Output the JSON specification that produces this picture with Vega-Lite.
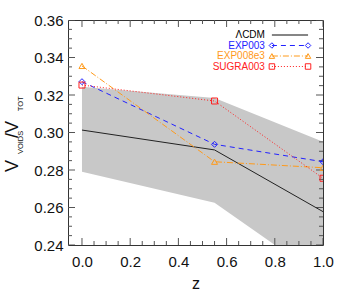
{
  "$schema": "https://vega.github.io/schema/vega-lite/v6.json",
  "width": 255,
  "height": 225,
  "autosize": {"type": "none"},
  "padding": {"left": 68, "top": 20, "right": 31, "bottom": 50},
  "config": {
    "view": {"stroke": "#333333", "strokeWidth": 1},
    "font": "Liberation Sans",
    "axis": {"grid": false, "labelFont": "Liberation Sans", "titleFont": "Liberation Sans", "labelColor": "#111111", "titleColor": "#111111", "titleFontWeight": "normal"}
  },
  "datasets": {
    "band": [
      {"z": 0.0, "lo": 0.2791, "hi": 0.3244},
      {"z": 0.55, "lo": 0.2626, "hi": 0.3184},
      {"z": 1.0, "lo": 0.222, "hi": 0.2951}
    ],
    "series": [
      {"model": "ΛCDM", "z": 0.0, "v": 0.3013},
      {"model": "ΛCDM", "z": 0.55, "v": 0.2907},
      {"model": "ΛCDM", "z": 1.0, "v": 0.2578},
      {"model": "EXP003", "z": 0.0, "v": 0.3271},
      {"model": "EXP003", "z": 0.55, "v": 0.2937},
      {"model": "EXP003", "z": 1.0, "v": 0.2844},
      {"model": "EXP008e3", "z": 0.0, "v": 0.3355},
      {"model": "EXP008e3", "z": 0.55, "v": 0.2844},
      {"model": "EXP008e3", "z": 1.0, "v": 0.2812},
      {"model": "SUGRA003", "z": 0.0, "v": 0.3253},
      {"model": "SUGRA003", "z": 0.55, "v": 0.3168},
      {"model": "SUGRA003", "z": 1.0, "v": 0.2756}
    ],
    "legend": [
      {"model": "ΛCDM", "ly": 0.352},
      {"model": "EXP003", "ly": 0.3464},
      {"model": "EXP008e3", "ly": 0.3408},
      {"model": "SUGRA003", "ly": 0.3352}
    ],
    "xticks": [
      {"t": 0.0, "kind": "major"}, {"t": 0.05, "kind": "minor"}, {"t": 0.1, "kind": "minor"}, {"t": 0.15, "kind": "minor"},
      {"t": 0.2, "kind": "major"}, {"t": 0.25, "kind": "minor"}, {"t": 0.3, "kind": "minor"}, {"t": 0.35, "kind": "minor"},
      {"t": 0.4, "kind": "major"}, {"t": 0.45, "kind": "minor"}, {"t": 0.5, "kind": "minor"}, {"t": 0.55, "kind": "minor"},
      {"t": 0.6, "kind": "major"}, {"t": 0.65, "kind": "minor"}, {"t": 0.7, "kind": "minor"}, {"t": 0.75, "kind": "minor"},
      {"t": 0.8, "kind": "major"}, {"t": 0.85, "kind": "minor"}, {"t": 0.9, "kind": "minor"}, {"t": 0.95, "kind": "minor"},
      {"t": 1.0, "kind": "major"}
    ],
    "yticks": [
      {"t": 0.24, "kind": "major"}, {"t": 0.245, "kind": "minor"}, {"t": 0.25, "kind": "minor"}, {"t": 0.255, "kind": "minor"},
      {"t": 0.26, "kind": "major"}, {"t": 0.265, "kind": "minor"}, {"t": 0.27, "kind": "minor"}, {"t": 0.275, "kind": "minor"},
      {"t": 0.28, "kind": "major"}, {"t": 0.285, "kind": "minor"}, {"t": 0.29, "kind": "minor"}, {"t": 0.295, "kind": "minor"},
      {"t": 0.30, "kind": "major"}, {"t": 0.305, "kind": "minor"}, {"t": 0.31, "kind": "minor"}, {"t": 0.315, "kind": "minor"},
      {"t": 0.32, "kind": "major"}, {"t": 0.325, "kind": "minor"}, {"t": 0.33, "kind": "minor"}, {"t": 0.335, "kind": "minor"},
      {"t": 0.34, "kind": "major"}, {"t": 0.345, "kind": "minor"}, {"t": 0.35, "kind": "minor"}, {"t": 0.355, "kind": "minor"},
      {"t": 0.36, "kind": "major"}
    ]
  },
  "resolve": {"axis": {"x": "independent", "y": "independent"}},
  "layer": [
    {
      "data": {"name": "band"},
      "mark": {"type": "area", "color": "#c8c8c8", "clip": true, "opacity": 1},
      "encoding": {
        "x": {"field": "z", "type": "quantitative",
          "scale": {"domain": [-0.058, 1.0], "nice": false, "zero": false},
          "axis": {"orient": "bottom", "values": [0, 0.2, 0.4, 0.6, 0.8, 1.0], "format": ".1f", "ticks": false, "tickSize": 0, "domain": false, "labelPadding": 9, "labelFontSize": 15, "title": "z", "titleFontSize": 16, "titlePadding": 6, "labelFlush": false}},
        "y": {"field": "lo", "type": "quantitative",
          "scale": {"domain": [0.24, 0.36], "nice": false, "zero": false},
          "axis": {"orient": "left", "values": [0.24, 0.26, 0.28, 0.30, 0.32, 0.34, 0.36], "format": ".2f", "ticks": false, "tickSize": 0, "domain": false, "labelPadding": 5, "labelFontSize": 15, "title": null, "labelFlush": false}},
        "y2": {"field": "hi"}
      }
    },
    {
      "data": {"name": "xticks"},
      "transform": [{"filter": "datum.kind === 'major'"}],
      "mark": {"type": "tick", "orient": "vertical", "size": 14, "thickness": 1, "color": "#555555", "clip": true, "opacity": 1},
      "encoding": {"x": {"field": "t", "type": "quantitative", "axis": null}, "y": {"datum": 0.24, "axis": null}}
    },
    {
      "data": {"name": "xticks"},
      "transform": [{"filter": "datum.kind === 'minor'"}],
      "mark": {"type": "tick", "orient": "vertical", "size": 8, "thickness": 1, "color": "#555555", "clip": true, "opacity": 1},
      "encoding": {"x": {"field": "t", "type": "quantitative", "axis": null}, "y": {"datum": 0.24, "axis": null}}
    },
    {
      "data": {"name": "xticks"},
      "transform": [{"filter": "datum.kind === 'major'"}],
      "mark": {"type": "tick", "orient": "vertical", "size": 14, "thickness": 1, "color": "#555555", "clip": true, "opacity": 1},
      "encoding": {"x": {"field": "t", "type": "quantitative", "axis": null}, "y": {"datum": 0.36, "axis": null}}
    },
    {
      "data": {"name": "xticks"},
      "transform": [{"filter": "datum.kind === 'minor'"}],
      "mark": {"type": "tick", "orient": "vertical", "size": 8, "thickness": 1, "color": "#555555", "clip": true, "opacity": 1},
      "encoding": {"x": {"field": "t", "type": "quantitative", "axis": null}, "y": {"datum": 0.36, "axis": null}}
    },
    {
      "data": {"name": "yticks"},
      "transform": [{"filter": "datum.kind === 'major'"}],
      "mark": {"type": "tick", "orient": "horizontal", "size": 14, "thickness": 1, "color": "#555555", "clip": true, "opacity": 1},
      "encoding": {"y": {"field": "t", "type": "quantitative", "axis": null}, "x": {"datum": -0.058, "axis": null}}
    },
    {
      "data": {"name": "yticks"},
      "transform": [{"filter": "datum.kind === 'minor'"}],
      "mark": {"type": "tick", "orient": "horizontal", "size": 8, "thickness": 1, "color": "#555555", "clip": true, "opacity": 1},
      "encoding": {"y": {"field": "t", "type": "quantitative", "axis": null}, "x": {"datum": -0.058, "axis": null}}
    },
    {
      "data": {"name": "yticks"},
      "transform": [{"filter": "datum.kind === 'major'"}],
      "mark": {"type": "tick", "orient": "horizontal", "size": 14, "thickness": 1, "color": "#555555", "clip": true, "opacity": 1},
      "encoding": {"y": {"field": "t", "type": "quantitative", "axis": null}, "x": {"datum": 1.0, "axis": null}}
    },
    {
      "data": {"name": "yticks"},
      "transform": [{"filter": "datum.kind === 'minor'"}],
      "mark": {"type": "tick", "orient": "horizontal", "size": 8, "thickness": 1, "color": "#555555", "clip": true, "opacity": 1},
      "encoding": {"y": {"field": "t", "type": "quantitative", "axis": null}, "x": {"datum": 1.0, "axis": null}}
    },
    {
      "data": {"name": "series"},
      "transform": [{"filter": "datum.model === 'ΛCDM'"}],
      "mark": {"type": "line", "color": "#222222", "strokeWidth": 1, "clip": true},
      "encoding": {
        "x": {"field": "z", "type": "quantitative", "axis": null},
        "y": {"field": "v", "type": "quantitative", "axis": null}
      }
    },
    {
      "data": {"name": "series"},
      "transform": [{"filter": "datum.model !== 'ΛCDM'"}],
      "mark": {"type": "line", "strokeWidth": 1, "clip": true},
      "encoding": {
        "x": {"field": "z", "type": "quantitative", "axis": null},
        "y": {"field": "v", "type": "quantitative", "axis": null},
        "color": {"field": "model", "type": "nominal", "legend": null,
          "scale": {"domain": ["ΛCDM", "EXP003", "EXP008e3", "SUGRA003"], "range": ["#000000", "#2222ff", "#ff9a1a", "#ff2222"]}},
        "strokeDash": {"field": "model", "type": "nominal", "legend": null,
          "scale": {"domain": ["ΛCDM", "EXP003", "EXP008e3", "SUGRA003"], "range": [[1, 0], [5, 4], [6, 2, 1, 2], [1, 2]]}}
      }
    },
    {
      "data": {"name": "series"},
      "transform": [{"filter": "datum.model !== 'ΛCDM'"}],
      "mark": {"type": "point", "filled": false, "strokeWidth": 1, "size": 36, "clip": true, "opacity": 1},
      "encoding": {
        "x": {"field": "z", "type": "quantitative", "axis": null},
        "y": {"field": "v", "type": "quantitative", "axis": null},
        "color": {"field": "model", "type": "nominal", "legend": null},
        "shape": {"field": "model", "type": "nominal", "legend": null,
          "scale": {"domain": ["EXP003", "EXP008e3", "SUGRA003"], "range": ["diamond", "triangle-up", "square"]}}
      }
    },
    {
      "data": {"name": "legend"},
      "mark": {"type": "text", "align": "right", "baseline": "middle", "fontSize": 10, "font": "Liberation Sans"},
      "encoding": {
        "x": {"datum": 0.759, "axis": null},
        "y": {"field": "ly", "type": "quantitative", "axis": null},
        "text": {"field": "model"},
        "color": {"field": "model", "type": "nominal", "legend": null}
      }
    },
    {
      "data": {"name": "legend"},
      "mark": {"type": "rule", "strokeWidth": 1},
      "encoding": {
        "x": {"datum": 0.788, "axis": null},
        "x2": {"datum": 0.938},
        "y": {"field": "ly", "type": "quantitative", "axis": null},
        "color": {"field": "model", "type": "nominal", "legend": null},
        "strokeDash": {"field": "model", "type": "nominal", "legend": null}
      }
    },
    {
      "data": {"name": "legend"},
      "transform": [{"filter": "datum.model !== 'ΛCDM'"}],
      "mark": {"type": "point", "filled": false, "strokeWidth": 1, "size": 30, "opacity": 1},
      "encoding": {
        "x": {"datum": 0.788, "axis": null},
        "y": {"field": "ly", "type": "quantitative", "axis": null},
        "color": {"field": "model", "type": "nominal", "legend": null},
        "shape": {"field": "model", "type": "nominal", "legend": null}
      }
    },
    {
      "data": {"name": "legend"},
      "transform": [{"filter": "datum.model !== 'ΛCDM'"}],
      "mark": {"type": "point", "filled": false, "strokeWidth": 1, "size": 30, "opacity": 1},
      "encoding": {
        "x": {"datum": 0.938, "axis": null},
        "y": {"field": "ly", "type": "quantitative", "axis": null},
        "color": {"field": "model", "type": "nominal", "legend": null},
        "shape": {"field": "model", "type": "nominal", "legend": null}
      }
    },
    {
      "data": {"values": [{"t": "V"}]},
      "mark": {"type": "text", "angle": 270, "align": "left", "baseline": "alphabetic", "fontSize": 18, "color": "#111111"},
      "encoding": {"x": {"datum": -0.2656, "axis": null}, "y": {"datum": 0.2789, "axis": null}, "text": {"field": "t"}}
    },
    {
      "data": {"values": [{"t": "VOIDS"}]},
      "mark": {"type": "text", "angle": 270, "align": "left", "baseline": "alphabetic", "fontSize": 7.5, "color": "#111111"},
      "encoding": {"x": {"datum": -0.2448, "axis": null}, "y": {"datum": 0.2885, "axis": null}, "text": {"field": "t"}}
    },
    {
      "data": {"values": [{"t": "/V"}]},
      "mark": {"type": "text", "angle": 270, "align": "left", "baseline": "alphabetic", "fontSize": 18, "color": "#111111"},
      "encoding": {"x": {"datum": -0.2656, "axis": null}, "y": {"datum": 0.2971, "axis": null}, "text": {"field": "t"}}
    },
    {
      "data": {"values": [{"t": "TOT"}]},
      "mark": {"type": "text", "angle": 270, "align": "left", "baseline": "alphabetic", "fontSize": 7.5, "color": "#111111"},
      "encoding": {"x": {"datum": -0.2448, "axis": null}, "y": {"datum": 0.3113, "axis": null}, "text": {"field": "t"}}
    }
  ]
}
